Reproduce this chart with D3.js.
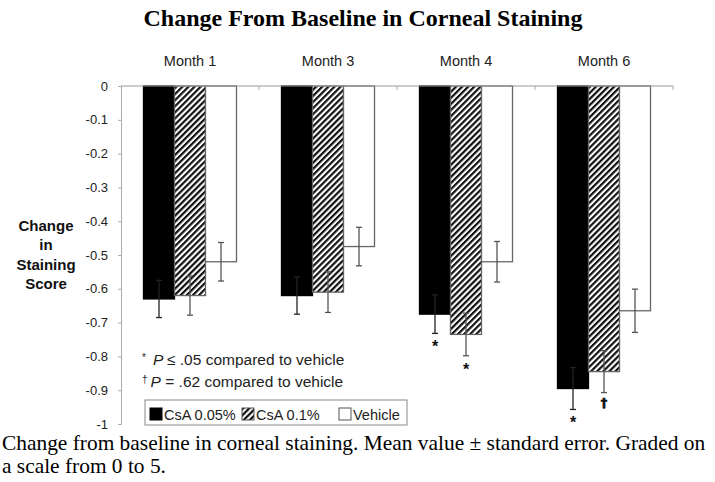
<!DOCTYPE html>
<html><head><meta charset="utf-8">
<script src="https://cdn.jsdelivr.net/npm/d3@7"></script>
<style>body{margin:0;background:#fff}svg{display:block}</style>
</head><body><svg id="c" width="715" height="482"></svg>
<script>
const months = ["Month 1","Month 3","Month 4","Month 6"];
const seriesNames = ["CsA 0.05%","CsA 0.1%","Vehicle"];
const csa005 = [-0.63,-0.62,-0.675,-0.895];
const csa01 = [-0.62,-0.61,-0.735,-0.845];
const vehicle = [-0.52,-0.475,-0.52,-0.665];
const se005 = [0.055,0.055,0.057,0.062];
const se01 = [0.058,0.06,0.063,0.062];
const se_vehicle = [0.057,0.057,0.06,0.064];
const marks005 = ["","","*","*"];
const marks01 = ["","","*","†"];
const yTicks = [0,-0.1,-0.2,-0.3,-0.4,-0.5,-0.6,-0.7,-0.8,-0.9,-1];
const yTickLabels = ["0","-0.1","-0.2","-0.3","-0.4","-0.5","-0.6","-0.7","-0.8","-0.9","-1"];

const svg = d3.select("#c");
const ff = "Liberation Sans, Arial, sans-serif";
const serif = "Liberation Serif, Times New Roman, serif";
const defs = svg.append("defs");
const pat = defs.append("pattern").attr("id","hatch").attr("patternUnits","userSpaceOnUse")
  .attr("width",4.3).attr("height",4.3).attr("patternTransform","rotate(45)");
pat.append("rect").attr("width",4.3).attr("height",4.3).attr("fill","#fff");
pat.append("rect").attr("width",2.2).attr("height",4.3).attr("fill","#111");

const x0 = d3.scaleBand().domain(months).range([121,673]).paddingInner(0.326).paddingOuter(0.163);
const x1 = d3.scaleBand().domain(seriesNames).range([0,x0.bandwidth()]);
const y = d3.scaleLinear().domain([0,-1]).range([86,424]);

const data = months.map((m,i)=>[
  {m, s:seriesNames[0], v:csa005[i], e:se005[i], mark:marks005[i]},
  {m, s:seriesNames[1], v:csa01[i], e:se01[i], mark:marks01[i]},
  {m, s:seriesNames[2], v:vehicle[i], e:se_vehicle[i], mark:""}
]).flat();
const fills = {"CsA 0.05%":"#000","CsA 0.1%":"url(#hatch)","Vehicle":"#fff"};

// title
svg.append("text").attr("x",363).attr("y",26).attr("text-anchor","middle")
  .attr("font-family",serif).attr("font-weight","bold")
  .attr("font-size",24).text("Change From Baseline in Corneal Staining");

// y axis
const yAxis = d3.axisLeft(y).tickValues(yTicks).tickFormat((d,i)=>yTickLabels[i]).tickSize(3).tickPadding(10);
const gy = svg.append("g").attr("transform","translate(121,0)").call(yAxis);
gy.select(".domain").attr("stroke","#aaa");
gy.selectAll(".tick line").attr("stroke","#aaa");
gy.selectAll("text").attr("font-family",ff).attr("font-size",13).attr("fill","#222");

// bars
const g = svg.append("g");
g.selectAll("rect.bar").data(data).enter().append("rect")
  .attr("x",d=>x0(d.m)+x1(d.s)).attr("y",y(0))
  .attr("width",x1.bandwidth()).attr("height",d=>y(d.v)-y(0))
  .attr("fill",d=>fills[d.s]).attr("stroke",d=>d.s==="CsA 0.05%"?"#000":"#666").attr("stroke-width",1.3);

// top axis line with category boundary ticks
svg.append("line").attr("x1",121).attr("x2",673).attr("y1",y(0)).attr("y2",y(0)).attr("stroke","#999");
const bounds = months.map(m=>x0(m)+x0.bandwidth()+x0.step()*x0.paddingOuter());
svg.selectAll("line.bt").data(bounds).enter().append("line")
  .attr("x1",d=>d).attr("x2",d=>d).attr("y1",y(0)).attr("y2",y(0)+4).attr("stroke","#aaa");

// month labels
svg.selectAll("text.mon").data(months).enter().append("text")
  .attr("x",d=>x0(d)+x0.bandwidth()/2).attr("y",66).attr("text-anchor","middle")
  .attr("font-family",ff).attr("font-size",14.5).attr("fill","#222").text(d=>d);

// error bars
const eb = g.selectAll("g.eb").data(data).enter().append("g")
  .attr("stroke",d=>d.s==="CsA 0.05%"?"#222":"#555").attr("stroke-width",1.3);
const cx = d=>x0(d.m)+x1(d.s)+x1.bandwidth()/2;
eb.append("line").attr("x1",cx).attr("x2",cx).attr("y1",d=>y(d.v+d.e)).attr("y2",d=>y(d.v-d.e));
eb.append("line").attr("x1",d=>cx(d)-3).attr("x2",d=>cx(d)+3).attr("y1",d=>y(d.v+d.e)).attr("y2",d=>y(d.v+d.e));
eb.append("line").attr("x1",d=>cx(d)-3).attr("x2",d=>cx(d)+3).attr("y1",d=>y(d.v-d.e)).attr("y2",d=>y(d.v-d.e));

// significance marks
g.selectAll("text.mk").data(data.filter(d=>d.mark)).enter().append("text")
  .attr("x",cx).attr("y",d=>y(d.v-d.e)+(d.mark==="*"?19:14)).attr("text-anchor","middle")
  .attr("font-family",d=>d.mark==="*"?ff:"DejaVu Sans, sans-serif").attr("font-weight","bold")
  .attr("font-size",d=>d.mark==="*"?16:13).attr("fill","#111")
  .attr("stroke",d=>d.mark==="*"?"none":"#111").attr("stroke-width",0.6).text(d=>d.mark);

// y label
const yl = svg.append("text").attr("text-anchor","middle")
  .attr("font-family",ff).attr("font-weight","bold").attr("font-size",15).attr("fill","#111");
["Change","in","Staining","Score"].forEach((t,i)=>yl.append("tspan").attr("x",46).attr("y",231+i*19.3).text(t));

// footnotes
const f1 = svg.append("text").attr("x",142).attr("y",365).attr("font-family",ff).attr("font-size",15.5).attr("fill","#222");
f1.append("tspan").attr("font-size",10).attr("dy",-4).text("*");
f1.append("tspan").attr("dx",7).attr("dy",4).attr("font-style","italic").text("P ");
f1.append("tspan").text("≤ .05 compared to vehicle");
const f2 = svg.append("text").attr("x",142).attr("y",387).attr("font-family",ff).attr("font-size",15.5).attr("fill","#222");
f2.append("tspan").attr("font-size",10).attr("dy",-4).text("†");
f2.append("tspan").attr("dx",3).attr("dy",4).attr("font-style","italic").text("P");
f2.append("tspan").text(" = .62 compared to vehicle");

// legend
svg.append("rect").attr("x",145).attr("y",400).attr("width",262).attr("height",25)
  .attr("fill","#fff").attr("stroke","#888");
const lx = [150,242,339];
const leg = svg.selectAll("g.lg").data(seriesNames).enter().append("g")
  .attr("transform",(d,i)=>`translate(${lx[i]},408)`);
leg.append("rect").attr("width",12).attr("height",12).attr("fill",d=>fills[d])
  .attr("stroke",d=>d==="CsA 0.05%"?"#000":"#555");
leg.append("text").attr("x",14).attr("y",11.5).attr("font-family",ff).attr("font-size",14.5).attr("fill","#222").text(d=>d);

// caption
const cap = svg.append("text").attr("font-family",serif).attr("font-size",21.4).attr("fill","#000");
cap.append("tspan").attr("x",2).attr("y",450).text("Change from baseline in corneal staining. Mean value ± standard error. Graded on");
cap.append("tspan").attr("x",2).attr("y",473).text("a scale from 0 to 5.");
</script></body></html>
